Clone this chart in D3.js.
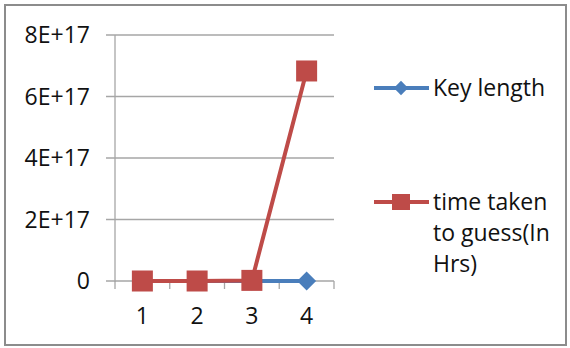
<!DOCTYPE html>
<html>
<head>
<meta charset="utf-8">
<script src="https://cdn.jsdelivr.net/npm/d3@7"></script>
<style>
  body { margin: 0; background: #fff; }
  svg text { font-family: "Open Sans", "Liberation Sans", sans-serif; fill: #111; }
</style>
</head>
<body>
<svg id="chart" width="570" height="348"></svg>
<script>
const categories = ["1", "2", "3", "4"];
const keyLength = [40, 56, 64, 128];
const timeTaken = [1.5e3, 1.0e8, 2.0e15, 6.83e17];
const yTicks = [0, 2e17, 4e17, 6e17, 8e17];
const yTickLabels = ["0", "2E+17", "4E+17", "6E+17", "8E+17"];

const blue = "#4a7ebb", red = "#be4b48";
const svg = d3.select("#chart");

// outer frame
svg.append("rect")
  .attr("x", 5).attr("y", 5).attr("width", 561).attr("height", 340)
  .attr("fill", "#fff").attr("stroke", "#8c8c8c").attr("stroke-width", 2);

const plotLeft = 115, plotRight = 334, plotTop = 35, plotBottom = 281;

const x = d3.scaleBand().domain(categories).range([plotLeft, plotRight]);
const y = d3.scaleLinear().domain([0, 8e17]).range([plotBottom, plotTop]);

// gridlines + y labels
svg.selectAll(".grid")
  .data(yTicks)
  .enter()
  .append("line")
  .attr("class", "grid")
  .attr("x1", plotLeft - 9).attr("x2", plotRight)
  .attr("y1", d => y(d)).attr("y2", d => y(d))
  .attr("stroke", "#a6a6a6").attr("stroke-width", 1.3);

svg.selectAll(".ylab")
  .data(yTicks)
  .enter()
  .append("text")
  .attr("class", "ylab")
  .attr("x", plotLeft - 25)
  .attr("y", d => y(d))
  .attr("dy", "0.36em")
  .attr("text-anchor", "end")
  .style("font-size", "23px")
  .text((d, i) => yTickLabels[i]);

// y axis line
svg.append("line")
  .attr("x1", plotLeft).attr("x2", plotLeft).attr("y1", plotTop).attr("y2", plotBottom + 1)
  .attr("stroke", "#a6a6a6").attr("stroke-width", 1.3);

// x tick marks at band edges
const edges = categories.map(c => x(c)).concat([plotRight]);
svg.selectAll(".xtick")
  .data(edges)
  .enter()
  .append("line")
  .attr("class", "xtick")
  .attr("x1", d => d).attr("x2", d => d)
  .attr("y1", plotBottom).attr("y2", plotBottom + 8)
  .attr("stroke", "#a6a6a6").attr("stroke-width", 1.3);

svg.selectAll(".xlab")
  .data(categories)
  .enter()
  .append("text")
  .attr("class", "xlab")
  .attr("x", d => x(d) + x.bandwidth() / 2)
  .attr("y", plotBottom + 43)
  .attr("text-anchor", "middle")
  .style("font-size", "23px")
  .text(d => d);

const cx = d => x(d) + x.bandwidth() / 2;
const line = d3.line().x((d, i) => cx(categories[i])).y(d => y(d));

// Key length series
svg.append("path")
  .datum(keyLength)
  .attr("d", line)
  .attr("fill", "none").attr("stroke", blue).attr("stroke-width", 4)
  .attr("stroke-linejoin", "round");
svg.selectAll(".diamond")
  .data(keyLength)
  .enter()
  .append("path")
  .attr("class", "diamond")
  .attr("d", d3.symbol(d3.symbolDiamond2, 230))
  .attr("transform", (d, i) => `translate(${cx(categories[i])},${y(d)})`)
  .attr("fill", blue);

// time taken series
svg.append("path")
  .datum(timeTaken)
  .attr("d", line)
  .attr("fill", "none").attr("stroke", red).attr("stroke-width", 4)
  .attr("stroke-linejoin", "round");
svg.selectAll(".square")
  .data(timeTaken)
  .enter()
  .append("rect")
  .attr("class", "square")
  .attr("x", (d, i) => cx(categories[i]) - 10.5)
  .attr("y", d => y(d) - 10.5)
  .attr("width", 21).attr("height", 21)
  .attr("fill", red);

// legend
const lg = svg.append("g");
lg.append("line").attr("x1", 374).attr("x2", 429).attr("y1", 88).attr("y2", 88)
  .attr("stroke", blue).attr("stroke-width", 4);
lg.append("path").attr("d", d3.symbol(d3.symbolDiamond2, 130))
  .attr("transform", "translate(401,88)").attr("fill", blue);
lg.append("text").attr("x", 433).attr("y", 88).attr("dy", "0.36em")
  .style("font-size", "23px").text("Key length");

lg.append("line").attr("x1", 374).attr("x2", 429).attr("y1", 202).attr("y2", 202)
  .attr("stroke", red).attr("stroke-width", 4);
lg.append("rect").attr("x", 392).attr("y", 194).attr("width", 18).attr("height", 16)
  .attr("fill", red);
const legendLines = ["time taken", "to guess(In", "Hrs)"];
lg.selectAll(".leg2")
  .data(legendLines)
  .enter()
  .append("text")
  .attr("class", "leg2")
  .attr("x", 433)
  .attr("y", (d, i) => 202 + i * 31)
  .attr("dy", "0.36em")
  .style("font-size", "23px")
  .text(d => d);
</script>
</body>
</html>
